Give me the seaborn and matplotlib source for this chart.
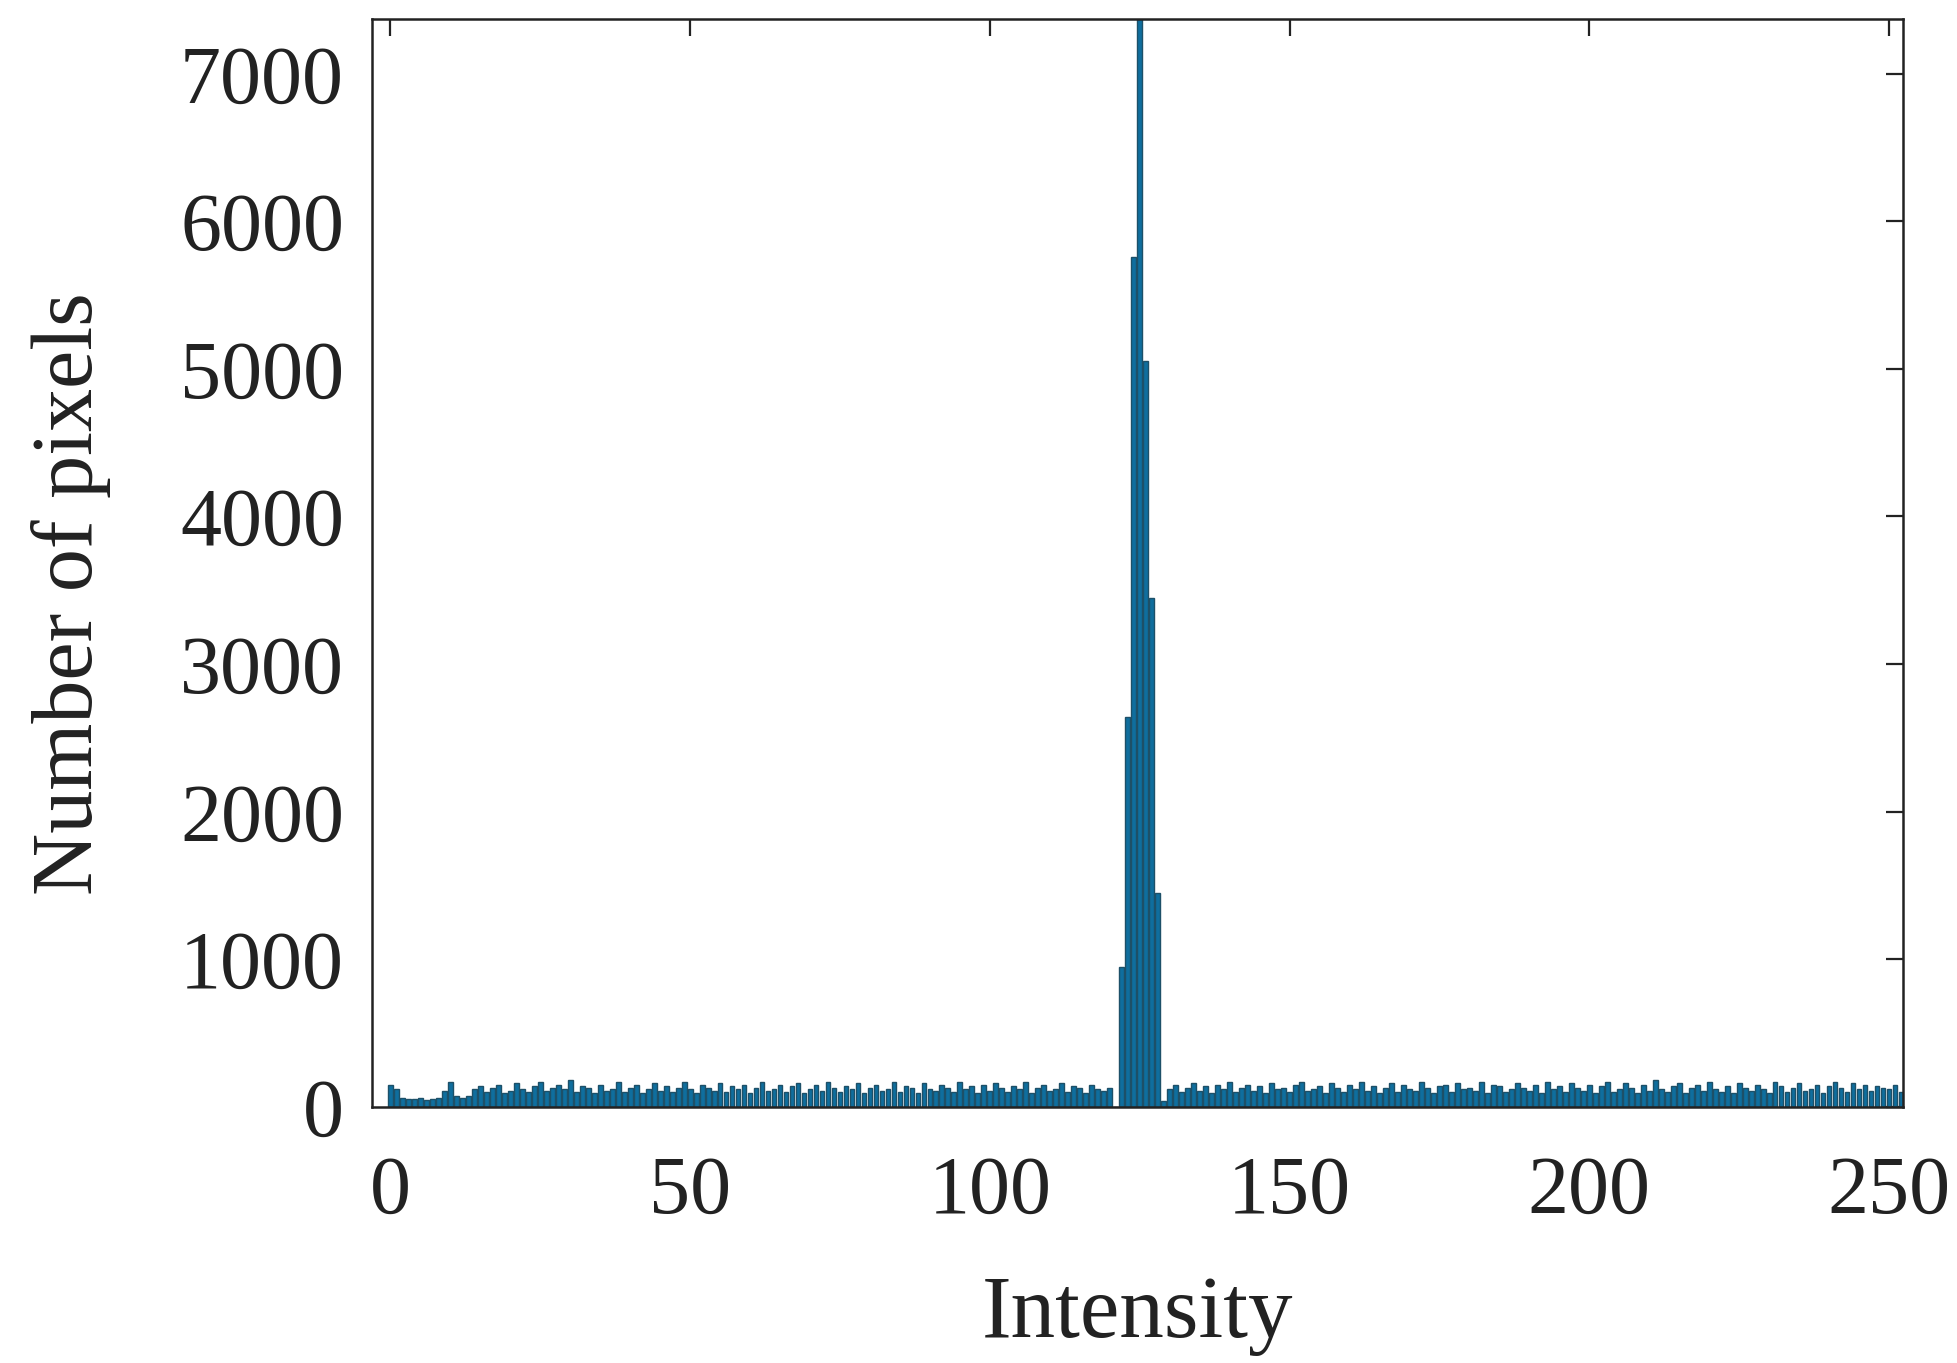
import numpy as np
import pandas as pd
import matplotlib
matplotlib.use("Agg")
import matplotlib.pyplot as plt
import seaborn as sns

# ---- data ----
intensity = list(range(0, 256))

noise_0_59 = [150, 120, 60, 55, 50, 60, 45, 55, 60, 110,
              165, 70, 60, 75, 120, 140, 100, 130, 150, 90,
              110, 160, 120, 100, 140, 170, 110, 130, 150, 120,
              180, 100, 140, 130, 90, 150, 110, 120, 170, 100,
              130, 150, 90, 120, 160, 110, 140, 100, 130, 170,
              120, 90, 150, 130, 110, 160, 100, 140, 120, 150]
noise_60_121 = [90, 130, 170, 110, 120, 150, 100, 140, 160, 90,
                120, 150, 110, 170, 130, 100, 140, 120, 160, 90,
                130, 150, 110, 120, 170, 100, 140, 130, 90, 160,
                120, 110, 150, 130, 100, 170, 120, 140, 90, 150,
                110, 160, 130, 100, 140, 120, 170, 90, 130, 150,
                110, 120, 160, 100, 140, 130, 90, 150, 120, 110,
                130, 0]
peak_122_128 = [950, 2640, 5760, 7800, 5050, 3450, 1450]
noise_129_189 = [40, 120, 150, 100, 130, 160, 110, 140, 90, 150,
                 120, 170, 100, 130, 150, 110, 140, 90, 160, 120,
                 130, 100, 150, 170, 110, 120, 140, 90, 160, 130,
                 100, 150, 120, 170, 110, 140, 90, 130, 160, 100,
                 150, 120, 110, 170, 130, 90, 140, 150, 100, 160,
                 120, 130, 110, 170, 90, 150, 140, 100, 120, 160,
                 130]
noise_190_255 = [110, 150, 90, 170, 120, 140, 100, 160, 130, 110,
                 150, 90, 140, 170, 100, 120, 160, 130, 90, 150,
                 110, 180, 120, 100, 140, 160, 90, 130, 150, 110,
                 170, 120, 100, 140, 90, 160, 130, 110, 150, 120,
                 90, 170, 140, 100, 130, 160, 110, 120, 150, 90,
                 140, 170, 130, 100, 160, 120, 150, 110, 140, 130,
                 120, 150, 100, 140, 130, 110]

counts = noise_0_59 + noise_60_121 + peak_122_128 + noise_129_189 + noise_190_255

x_ticks = [0, 50, 100, 150, 200, 250]
y_ticks = [0, 1000, 2000, 3000, 4000, 5000, 6000, 7000]

df = pd.DataFrame({"Intensity": intensity, "Count": counts})

# ---- plot ----
sns.set_style("white")
plt.rcParams["font.family"] = ["Liberation Serif", "DejaVu Serif"]

fig = plt.figure(figsize=(19.57, 13.63), dpi=100)
ax = fig.add_axes([0.190, 0.188, 0.7826, 0.798])

sns.histplot(data=df, x="Intensity", weights="Count", discrete=True,
             shrink=0.8, color="#0f6e9e", edgecolor="#1d5068",
             linewidth=1.0, alpha=1.0, ax=ax)

ax.set_xlim(-3.1, 252.4)
ax.set_ylim(0, 7370)
ax.set_xticks(x_ticks)
ax.set_yticks(y_ticks)
ax.set_xticklabels([str(t) for t in x_ticks])
ax.set_yticklabels([str(t) for t in y_ticks])

ax.tick_params(axis="both", which="major", direction="in", length=12,
               width=1.6, color="#222222", top=True, right=True,
               labelsize=59, labelcolor="#222222")
ax.tick_params(axis="x", pad=35)
ax.tick_params(axis="y", pad=20)

for s in ax.spines.values():
    s.set_visible(True)
    s.set_color("#222222")
    s.set_linewidth(1.8)

ax.set_xlabel("Intensity", fontsize=64, color="#222222", labelpad=32)
ax.set_ylabel("Number of pixels", fontsize=62, color="#222222")
ax.yaxis.set_label_coords(-0.170, 0.472)

fig.savefig("out.png", dpi=100, facecolor="white")
